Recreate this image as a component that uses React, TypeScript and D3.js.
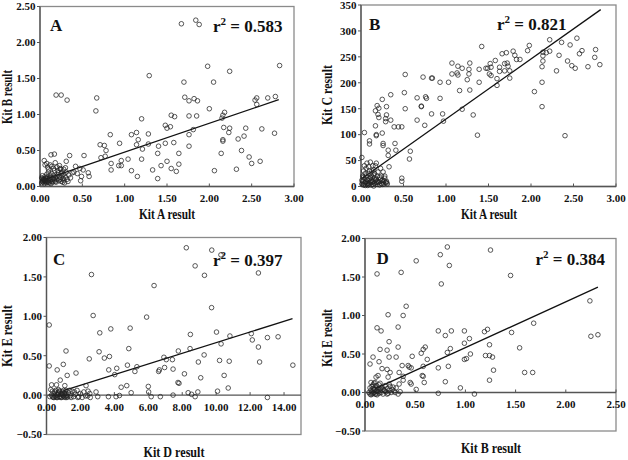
import React from "react";
import * as d3 from "d3";

type Pt = [number, number];

// ---------- Panel A: Kit A result (x) vs Kit B result (y) ----------
const pointsA: Pt[] = [
  [1.67, 2.26], [1.84, 2.31], [1.88, 2.25], [1.98, 1.67], [2.24, 1.6], [2.83, 1.68], [1.29, 1.54], [1.7, 1.45], [2.05, 1.45],
  [0.19, 1.27], [0.25, 1.27], [0.32, 1.2], [0.67, 1.23], [0.66, 1.05], [1.71, 1.24], [1.76, 1.19], [1.82, 1.22], [1.86, 1.19],
  [2.0, 1.08], [2.56, 1.23], [2.54, 1.2], [2.56, 1.14], [2.69, 1.23], [2.78, 1.25], [1.2, 0.94], [1.55, 0.99], [1.59, 0.97],
  [1.76, 0.98], [1.85, 0.98], [2.16, 0.99], [2.18, 1.03], [2.15, 0.95], [0.83, 0.72], [1.14, 0.75], [1.08, 0.72], [1.28, 0.73],
  [1.48, 0.85], [1.5, 0.81], [1.54, 0.83], [1.76, 0.72], [1.81, 0.79], [2.17, 0.82], [2.24, 0.81], [2.23, 0.75], [2.43, 0.81],
  [2.41, 0.7], [2.62, 0.8], [2.77, 0.74], [2.34, 0.66], [2.16, 0.65], [2.16, 0.63], [2.14, 0.46], [2.38, 0.5], [2.47, 0.41],
  [2.5, 0.32], [2.6, 0.35], [2.32, 0.24], [2.06, 0.22], [0.71, 0.58], [0.76, 0.57], [0.94, 0.6], [0.78, 0.5], [0.72, 0.4],
  [0.77, 0.42], [1.14, 0.58], [1.16, 0.65], [1.28, 0.59], [1.4, 0.56], [1.39, 0.46], [1.48, 0.6], [1.58, 0.61], [1.76, 0.56],
  [1.64, 0.46], [1.21, 0.52], [1.2, 0.38], [1.04, 0.38], [0.96, 0.36], [0.96, 0.29], [0.84, 0.32], [0.93, 0.29], [1.5, 0.35],
  [1.43, 0.29], [1.64, 0.31], [1.55, 0.25], [1.61, 0.21], [0.84, 0.23], [1.08, 0.22], [1.15, 0.14], [1.33, 0.23], [1.39, 0.11],
  [0.35, 0.43], [0.52, 0.43], [0.13, 0.44], [0.17, 0.45], [0.47, 0.25], [0.51, 0.23], [0.49, 0.14], [0.48, 0.08], [0.57, 0.19],
  [0.58, 0.14], [0.38, 0.19], [0.42, 0.28], [0.31, 0.35], [0.24, 0.25], [0.28, 0.24],
  [0.02, 0.05], [0.03, 0.08], [0.04, 0.06], [0.05, 0.1], [0.06, 0.07], [0.07, 0.12], [0.08, 0.05], [0.09, 0.09], [0.1, 0.06],
  [0.11, 0.11], [0.12, 0.08], [0.13, 0.13], [0.14, 0.07], [0.15, 0.1], [0.16, 0.15], [0.17, 0.09], [0.18, 0.12], [0.19, 0.06],
  [0.2, 0.1], [0.21, 0.16], [0.22, 0.08], [0.23, 0.13], [0.24, 0.1], [0.25, 0.07], [0.26, 0.15], [0.27, 0.11], [0.28, 0.09],
  [0.3, 0.13], [0.32, 0.1], [0.34, 0.16], [0.02, 0.12], [0.03, 0.15], [0.04, 0.1], [0.05, 0.04], [0.06, 0.14], [0.07, 0.08],
  [0.08, 0.17], [0.09, 0.13], [0.1, 0.2], [0.11, 0.05], [0.12, 0.16], [0.13, 0.04], [0.14, 0.18], [0.15, 0.06], [0.16, 0.11],
  [0.17, 0.22], [0.18, 0.07], [0.19, 0.14], [0.2, 0.27], [0.22, 0.19], [0.24, 0.24], [0.26, 0.2], [0.28, 0.17], [0.3, 0.26],
  [0.31, 0.2], [0.05, 0.36], [0.06, 0.3], [0.08, 0.32], [0.09, 0.27], [0.1, 0.24], [0.12, 0.3], [0.14, 0.28], [0.16, 0.25],
  [0.18, 0.33], [0.21, 0.22], [0.23, 0.29], [0.25, 0.18], [0.27, 0.06], [0.29, 0.05], [0.33, 0.07], [0.36, 0.12], [0.4, 0.2],
  [0.44, 0.18], [0.03, 0.07], [0.04, 0.09], [0.06, 0.09], [0.07, 0.06], [0.08, 0.11], [0.05, 0.08], [0.03, 0.11], [0.09, 0.07],
];
const fitA = { slope: 0.4, intercept: 0.078, from: 0.02, to: 2.82 };
const r2A = "0.583";

// ---------- Panel B: Kit A result (x) vs Kit C result (y) ----------
const pointsB: Pt[] = [
  [2.22, 283], [2.54, 286], [2.36, 278], [2.46, 273], [1.98, 272], [1.96, 262], [2.6, 262], [2.57, 256], [2.76, 264], [2.75, 249],
  [2.14, 259], [2.18, 258], [2.22, 261], [2.14, 252], [2.14, 242], [2.33, 253], [2.43, 242], [2.48, 233], [2.52, 228], [2.67, 231],
  [2.81, 235], [2.13, 231], [2.3, 223], [2.13, 201], [2.04, 183], [2.13, 154], [2.4, 98], [1.42, 270], [1.79, 261], [1.66, 256],
  [1.71, 258], [1.81, 253], [1.83, 245], [1.87, 245], [1.58, 243], [1.72, 238], [1.69, 237], [1.73, 232], [1.63, 230], [1.63, 222],
  [1.52, 237], [1.53, 230], [1.47, 228], [1.49, 228], [1.51, 217], [1.53, 214], [1.69, 223], [1.75, 223], [1.75, 209], [1.6, 208],
  [1.6, 195], [1.39, 226], [1.39, 201], [1.28, 238], [1.27, 226], [1.27, 217], [1.25, 206], [1.07, 238], [1.07, 217], [1.14, 232],
  [1.19, 228], [1.13, 219], [1.14, 215], [1.16, 185], [1.28, 186], [1.19, 149], [1.32, 138], [1.37, 99], [1.03, 201], [0.93, 201],
  [0.73, 211], [0.83, 209], [0.84, 209], [0.52, 216], [0.51, 181], [0.52, 150], [0.35, 177], [0.25, 168], [0.66, 171], [0.93, 170],
  [0.76, 173], [0.77, 170], [0.71, 155], [0.71, 154], [0.66, 128], [0.75, 118], [0.83, 140], [0.96, 140], [0.97, 126], [0.48, 115],
  [0.44, 115], [0.39, 115], [0.35, 128], [0.3, 138], [0.29, 131], [0.29, 125], [0.3, 154], [0.25, 103], [0.26, 83], [0.26, 79],
  [0.4, 83], [0.41, 70], [0.32, 70], [0.32, 60], [0.33, 38], [0.58, 68], [0.57, 53], [0.19, 156], [0.21, 151], [0.17, 146],
  [0.2, 139], [0.21, 133], [0.17, 117], [0.18, 100], [0.18, 98], [0.1, 88], [0.1, 82], [0.04, 104], [0.01, 56], [0.48, 16], [0.48, 10],
  [0.01, 5], [0.02, 10], [0.03, 3], [0.04, 15], [0.05, 8], [0.06, 20], [0.07, 5], [0.08, 12], [0.09, 25], [0.1, 7], [0.11, 18],
  [0.12, 3], [0.13, 30], [0.14, 10], [0.15, 22], [0.16, 6], [0.17, 40], [0.18, 14], [0.19, 4], [0.2, 28], [0.21, 9], [0.22, 18],
  [0.23, 35], [0.24, 6], [0.25, 12], [0.26, 28], [0.27, 5], [0.28, 16], [0.29, 8], [0.3, 10], [0.31, 5], [0.02, 20], [0.03, 30],
  [0.04, 40], [0.05, 2], [0.06, 35], [0.07, 45], [0.08, 2], [0.09, 38], [0.1, 15], [0.11, 47], [0.12, 22], [0.13, 8], [0.14, 40],
  [0.15, 1], [0.16, 25], [0.17, 12], [0.18, 45], [0.19, 20], [0.2, 8], [0.22, 3], [0.24, 20], [0.26, 9], [0.28, 20], [0.3, 7],
  [0.01, 12], [0.03, 18], [0.05, 25], [0.07, 14], [0.09, 4], [0.11, 9], [0.13, 18], [0.15, 32], [0.19, 10], [0.23, 14], [0.25, 4],
  [0.27, 11], [0.04, 6], [0.06, 9], [0.08, 6], [0.1, 30], [0.12, 12], [0.14, 4], [0.16, 16], [0.18, 8],
];
const fitB = { slope: 116, intercept: 14, from: 0.02, to: 2.82 };
const r2B = "0.821";

// ---------- Panel C: Kit D result (x) vs Kit E result (y) ----------
const pointsC: Pt[] = [
  [8.24, 1.87], [9.74, 1.84], [10.28, 1.78], [8.76, 1.64], [9.31, 1.52], [2.65, 1.53], [12.49, 1.55], [6.34, 1.39], [9.73, 1.11],
  [5.9, 0.99], [2.75, 1.01], [0.16, 0.89], [3.79, 0.84], [4.93, 0.85], [3.14, 0.79], [8.48, 0.77], [10.02, 0.8], [12.07, 0.78],
  [10.81, 0.75], [12.13, 0.7], [13.02, 0.73], [13.65, 0.74], [10.29, 0.65], [12.49, 0.61], [4.85, 0.59], [8.46, 0.59], [1.15, 0.56],
  [7.77, 0.56], [2.52, 0.46], [3.1, 0.55], [3.41, 0.47], [3.71, 0.49], [6.92, 0.48], [7.06, 0.45], [7.42, 0.45], [9.29, 0.51],
  [12.56, 0.42], [10.77, 0.43], [10.2, 0.44], [8.95, 0.42], [14.52, 0.38], [0.99, 0.39], [0.16, 0.37], [4.77, 0.38], [5.33, 0.36],
  [4.14, 0.34], [5.21, 0.3], [3.67, 0.32], [4.02, 0.26], [6.96, 0.35], [7.46, 0.33], [6.65, 0.32], [6.61, 0.3], [8.13, 0.27],
  [10.47, 0.25], [9.09, 0.22], [1.74, 0.28], [1.22, 0.25], [0.63, 0.32], [0.81, 0.19], [1.08, 0.12], [0.3, 0.13], [0.59, 0.13],
  [2.33, 0.12], [4.4, 0.1], [4.73, 0.12], [6.0, 0.11], [7.75, 0.16], [7.81, 0.15], [10.71, 0.09], [6.02, 0.04], [4.99, 0.03],
  [2.92, 0.04], [8.35, 0.03], [8.55, 0.01], [8.92, 0.04], [10.08, 0.05], [7.46, 0.0], [6.17, -0.02], [6.71, -0.02], [8.76, -0.02],
  [13.02, -0.03], [3.65, -0.02], [4.1, -0.02], [4.3, -0.005], [3.02, -0.02], [2.58, -0.03], [2.43, -0.01],
  [0.2, -0.02], [0.3, 0.0], [0.35, 0.05], [0.4, -0.03], [0.45, 0.02], [0.5, -0.01], [0.55, 0.06], [0.6, 0.0], [0.65, -0.03],
  [0.7, 0.03], [0.75, -0.02], [0.8, 0.05], [0.85, 0.01], [0.9, -0.03], [0.95, 0.04], [1.0, -0.01], [1.05, 0.02], [1.1, -0.03],
  [1.15, 0.06], [1.2, 0.0], [1.25, -0.02], [1.3, 0.03], [1.4, -0.01], [1.5, 0.05], [1.6, -0.02], [1.7, 0.01], [1.8, 0.06],
  [1.9, -0.02], [2.0, 0.02], [2.1, -0.03], [2.2, 0.04], [2.3, -0.01], [2.45, 0.05], [2.55, 0.02], [0.25, 0.07], [0.35, -0.02],
  [0.5, 0.04], [0.6, -0.03], [0.7, 0.07], [0.8, -0.02], [0.9, 0.02], [1.0, 0.06], [1.1, 0.02], [1.2, -0.03], [1.35, 0.06],
  [1.45, -0.03], [1.65, 0.04], [1.85, -0.03], [0.45, -0.03], [0.55, -0.02], [0.65, 0.01], [0.75, 0.05], [0.85, -0.03], [0.95, 0.0],
  [1.05, -0.02], [1.15, -0.01],
];
const fitC = { slope: 0.0676, intercept: -0.01, from: 1.0, to: 14.5 };
const r2C = "0.397";

// ---------- Panel D: Kit B result (x) vs Kit E result (y) ----------
const pointsD: Pt[] = [
  [0.82, 1.89], [1.25, 1.85], [0.84, 1.65], [0.75, 1.79], [0.51, 1.71], [0.12, 1.54], [0.36, 1.56], [1.45, 1.52], [0.76, 1.41],
  [0.23, 1.01], [0.38, 1.0], [0.41, 1.12], [2.24, 1.19], [1.68, 0.9], [0.12, 0.84], [0.16, 0.8], [0.33, 0.85], [0.73, 0.8],
  [0.86, 0.8], [0.99, 0.8], [0.8, 0.74], [1.22, 0.82], [1.19, 0.79], [1.46, 0.78], [2.25, 0.73], [2.32, 0.75], [1.04, 0.7],
  [0.24, 0.66], [0.99, 0.64], [1.24, 0.62], [0.33, 0.59], [0.6, 0.59], [0.22, 0.55], [0.15, 0.56], [0.58, 0.56], [0.85, 0.57],
  [1.54, 0.58], [0.56, 0.51], [0.82, 0.52], [0.08, 0.46], [0.24, 0.46], [0.31, 0.46], [0.47, 0.47], [1.05, 0.5], [1.2, 0.48],
  [1.24, 0.48], [1.27, 0.46], [0.62, 0.43], [0.99, 0.43], [1.01, 0.44], [0.05, 0.37], [0.14, 0.4], [0.37, 0.35], [0.44, 0.33],
  [0.43, 0.35], [0.46, 0.32], [0.58, 0.34], [0.83, 0.34], [0.73, 0.32], [0.17, 0.31], [0.22, 0.3], [1.28, 0.29], [0.34, 0.26],
  [0.25, 0.26], [0.11, 0.2], [0.13, 0.22], [0.23, 0.2], [0.57, 0.22], [0.58, 0.21], [1.59, 0.26], [1.67, 0.26], [1.24, 0.16],
  [0.59, 0.13], [0.8, 0.14], [0.45, 0.13], [0.46, 0.11], [0.38, 0.21], [0.38, 0.16], [0.34, 0.11], [0.95, 0.06], [0.51, 0.04],
  [0.73, -0.01], [1.09, -0.02],
  [0.04, 0.0], [0.05, -0.02], [0.06, 0.03], [0.06, -0.03], [0.07, 0.01], [0.07, 0.08], [0.08, -0.01], [0.08, 0.05], [0.09, 0.0],
  [0.09, 0.12], [0.1, -0.02], [0.1, 0.04], [0.11, 0.02], [0.11, 0.09], [0.12, -0.03], [0.12, 0.06], [0.13, 0.01], [0.14, 0.1],
  [0.14, -0.01], [0.15, 0.04], [0.16, 0.0], [0.17, 0.07], [0.18, -0.02], [0.19, 0.03], [0.2, 0.09], [0.21, 0.01], [0.22, 0.05],
  [0.23, -0.01], [0.24, 0.03], [0.25, 0.08], [0.26, 0.0], [0.27, 0.04], [0.29, 0.02], [0.31, 0.06], [0.33, -0.02], [0.35, 0.01],
  [0.05, 0.06], [0.06, 0.13], [0.07, -0.02], [0.08, 0.1], [0.09, 0.04], [0.1, 0.13], [0.11, -0.02], [0.12, 0.02], [0.13, 0.05],
  [0.15, 0.12], [0.16, 0.06], [0.18, 0.04], [0.2, 0.02], [0.22, -0.02], [0.24, 0.11], [0.28, 0.07], [0.3, 0.0],
];
const fitD = { slope: 0.595, intercept: -0.013, from: 0.1, to: 2.32 };
const r2D = "0.384";

// ---------- Axis ticks and titles ----------
const ticksKitA = [0, 0.5, 1, 1.5, 2, 2.5, 3];
const ticksKitB_A = [0, 0.5, 1, 1.5, 2, 2.5];
const ticksKitC = [0, 50, 100, 150, 200, 250, 300, 350];
const ticksKitD = [0, 2, 4, 6, 8, 10, 12, 14];
const ticksKitE = [-0.5, 0, 0.5, 1, 1.5, 2];
const ticksKitB_D = [0, 0.5, 1, 1.5, 2, 2.5];
const panelLetters = ["A", "B", "C", "D"];
const xTitles = ["Kit A result", "Kit A result", "Kit D result", "Kit B result"];
const yTitles = ["Kit B result", "Kit C result", "Kit E result", "Kit E result"];

const FONT = "'Liberation Serif', 'Times New Roman', serif";
const fmt2 = d3.format(".2f");
const fmt0 = d3.format("d");

interface Cfg {
  letter: string;
  r2: string;
  points: Pt[];
  fit: { slope: number; intercept: number; from: number; to: number };
  xDomain: [number, number];
  yDomain: [number, number];
  xTicks: number[];
  yTicks: number[];
  yFmt: (n: number) => string;
  xTitle: string;
  yTitle: string;
  box: { left: number; right: number; top: number; bottom: number };
  letterPos: [number, number];
  r2Pos: [number, number];
  xTitlePos: [number, number];
  yTitlePos: [number, number];
  titleLen: [number, number];
  xLabelOffset: number;
}

const panels: Cfg[] = [
  {
    letter: panelLetters[0], r2: r2A, points: pointsA, fit: fitA,
    xDomain: [0, 3], yDomain: [0, 2.5], xTicks: ticksKitA, yTicks: ticksKitB_A, yFmt: fmt2,
    xTitle: xTitles[0], yTitle: yTitles[0],
    box: { left: 40, right: 294, top: 6.5, bottom: 186.5 },
    letterPos: [50, 30.5], r2Pos: [213, 31.5], xTitlePos: [167, 219], yTitlePos: [12, 97], titleLen: [56, 54],
    xLabelOffset: 15,
  },
  {
    letter: panelLetters[1], r2: r2B, points: pointsB, fit: fitB,
    xDomain: [0, 3], yDomain: [0, 350], xTicks: ticksKitA, yTicks: ticksKitC, yFmt: fmt0,
    xTitle: xTitles[1], yTitle: yTitles[1],
    box: { left: 361, right: 616, top: 5, bottom: 186.5 },
    letterPos: [369, 29.5], r2Pos: [497, 30], xTitlePos: [489, 218.5], yTitlePos: [332, 95], titleLen: [56, 60],
    xLabelOffset: 15,
  },
  {
    letter: panelLetters[2], r2: r2C, points: pointsC, fit: fitC,
    xDomain: [0, 15], yDomain: [-0.5, 2], xTicks: ticksKitD, yTicks: ticksKitE, yFmt: fmt2,
    xTitle: xTitles[2], yTitle: yTitles[2],
    box: { left: 46.5, right: 301, top: 237.5, bottom: 434.5 },
    letterPos: [53, 264.5], r2Pos: [213, 266], xTitlePos: [174, 456.5], yTitlePos: [12, 336], titleLen: [61, 62],
    xLabelOffset: 16,
  },
  {
    letter: panelLetters[3], r2: r2D, points: pointsD, fit: fitD,
    xDomain: [0, 2.5], yDomain: [-0.5, 2], xTicks: ticksKitB_D, yTicks: ticksKitE, yFmt: fmt2,
    xTitle: xTitles[3], yTitle: yTitles[3],
    box: { left: 365, right: 616, top: 238.5, bottom: 431 },
    letterPos: [376.5, 263.5], r2Pos: [535.5, 264.5], xTitlePos: [491, 452.5], yTitlePos: [332, 338], titleLen: [60, 58],
    xLabelOffset: 15,
  },
];

function Panel({ cfg }: { cfg: Cfg }) {
  const { box } = cfg;
  const x = d3.scaleLinear().domain(cfg.xDomain).range([box.left, box.right]);
  const y = d3.scaleLinear().domain(cfg.yDomain).range([box.bottom, box.top]);
  const y0 = y(0);
  const fitLine = d3.line<number>()
    .x((v) => x(v))
    .y((v) => y(cfg.fit.slope * v + cfg.fit.intercept));
  return (
    <g>
      <rect x={box.left} y={box.top} width={box.right - box.left} height={box.bottom - box.top}
        fill="none" stroke="#8a8a8a" strokeWidth={1.3} />
      <line x1={box.left} x2={box.left} y1={box.top} y2={box.bottom} stroke="#555" strokeWidth={1.3} />
      <line x1={box.left} x2={box.right} y1={y0} y2={y0} stroke="#555" strokeWidth={1.3} />
      {cfg.yTicks.map((t) => (
        <g key={"y" + t}>
          <line x1={box.left - 3} x2={box.left} y1={y(t)} y2={y(t)} stroke="#555" strokeWidth={1} />
          <text x={box.left - 4.5} y={y(t)} dy="0.35em" textAnchor="end" fontFamily={FONT}
            fontWeight="bold" fontSize={11} fill="#111">{cfg.yFmt(t)}</text>
        </g>
      ))}
      {cfg.xTicks.map((t) => (
        <g key={"x" + t}>
          <line x1={x(t)} x2={x(t)} y1={y0 - 3} y2={y0} stroke="#555" strokeWidth={1} />
          <text x={x(t)} y={y0 + cfg.xLabelOffset} textAnchor="middle" fontFamily={FONT}
            fontWeight="bold" fontSize={11} fill="#111">{fmt2(t)}</text>
        </g>
      ))}
      <text x={cfg.letterPos[0]} y={cfg.letterPos[1]} fontFamily={FONT} fontWeight="bold" fontSize={17} fill="#111">
        {cfg.letter}
      </text>
      <text x={cfg.r2Pos[0]} y={cfg.r2Pos[1]} fontFamily={FONT} fontWeight="bold" fontSize={17} fill="#111">
        r<tspan dy={-7} fontSize={11}>2</tspan><tspan dy={7}>{" = " + cfg.r2}</tspan>
      </text>
      <path d={fitLine([cfg.fit.from, cfg.fit.to]) || ""} fill="none" stroke="#111" strokeWidth={1.3} />
      {cfg.points.map((p, i) => (
        <circle key={i} cx={x(p[0])} cy={y(p[1])} r={2.3} fill="none" stroke="#222" strokeWidth={0.75} />
      ))}
      <text x={cfg.xTitlePos[0]} y={cfg.xTitlePos[1]} textAnchor="middle" fontFamily={FONT} fontWeight="bold"
        fontSize={14} fill="#111" textLength={cfg.titleLen[0]} lengthAdjust="spacingAndGlyphs">{cfg.xTitle}</text>
      <text transform={`translate(${cfg.yTitlePos[0]},${cfg.yTitlePos[1]}) rotate(-90)`} textAnchor="middle"
        fontFamily={FONT} fontWeight="bold" fontSize={14} fill="#111" textLength={cfg.titleLen[1]}
        lengthAdjust="spacingAndGlyphs">{cfg.yTitle}</text>
    </g>
  );
}

export default function App() {
  return (
    <div style={{ position: "absolute", left: 0, top: 0, width: 628, height: 460, background: "#fff" }}>
      <svg width={628} height={460} viewBox="0 0 628 460" style={{ display: "block" }}>
        <rect x={0} y={0} width={628} height={460} fill="#fff" />
        {panels.map((p) => (
          <Panel key={p.letter} cfg={p} />
        ))}
      </svg>
    </div>
  );
}
